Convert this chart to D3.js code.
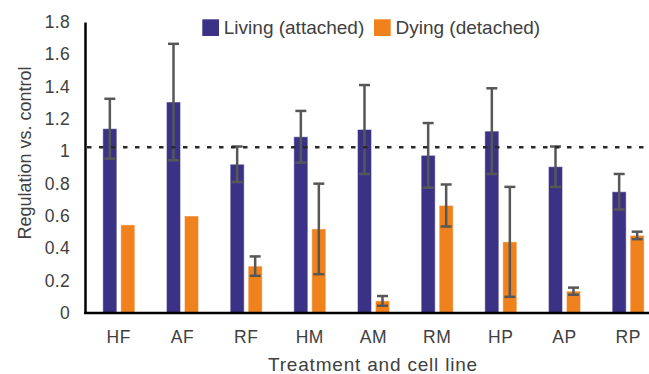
<!DOCTYPE html>
<html>
<head>
<meta charset="utf-8">
<script src="https://cdn.jsdelivr.net/npm/d3@7"></script>
<style>
  html, body { margin: 0; padding: 0; background: #fff; }
  svg { display: block; font-family: "Liberation Sans", Arial, Helvetica, sans-serif; }
</style>
</head>
<body>
<svg id="chart" width="649" height="374"></svg>
<script>
const categories = ["HF", "AF", "RF", "HM", "AM", "RM", "HP", "AP", "RP"];
const seriesNames = ["Living (attached)", "Dying (detached)"];
const livingValues = [1.14, 1.305, 0.92, 1.09, 1.135, 0.975, 1.125, 0.905, 0.75];
const livingErrors = [0.185, 0.36, 0.11, 0.16, 0.275, 0.2, 0.265, 0.125, 0.11];
const dyingValues  = [0.545, 0.6, 0.29, 0.52, 0.075, 0.665, 0.44, 0.135, 0.48];
const dyingErrors  = [0, 0, 0.06, 0.28, 0.03, 0.13, 0.34, 0.022, 0.023];
const yTicks = [0, 0.2, 0.4, 0.6, 0.8, 1, 1.2, 1.4, 1.6, 1.8];
const referenceLevel = 1.025;
const colors = ["#3b3286", "#f0821e"];

const svg = d3.select("#chart");
const W = 649, H = 374;
const x = d3.scaleBand().domain(categories).range([87, 660]).paddingInner(0).paddingOuter(0);
const bw = x.bandwidth();
const xs = d3.scaleBand().domain(seriesNames).range([bw / 2 - 16, bw / 2 + 16]).paddingInner(4 / 18).paddingOuter(0);
const y = d3.scaleLinear().domain([0, 1.8]).range([313, 22]);

const rows = categories.map((c, i) => ({
  cat: c,
  vals: [
    { s: seriesNames[0], v: livingValues[i], e: livingErrors[i], col: colors[0] },
    { s: seriesNames[1], v: dyingValues[i], e: dyingErrors[i], col: colors[1] }
  ]
}));

// bars
const g = svg.append("g");
const groups = g.selectAll("g.grp").data(rows).join("g")
  .attr("class", "grp")
  .attr("transform", d => `translate(${x(d.cat)},0)`);

groups.selectAll("rect").data(d => d.vals).join("rect")
  .attr("x", d => xs(d.s))
  .attr("y", d => y(d.v))
  .attr("width", xs.bandwidth())
  .attr("height", d => y(0) - y(d.v))
  .attr("fill", d => d.col)
  .attr("stroke", "rgba(255,255,255,0.45)")
  .attr("stroke-width", 1);

// error bars
const eb = groups.selectAll("g.eb").data(d => d.vals.filter(v => v.e > 0)).join("g").attr("class", "eb")
  .attr("stroke", "#575757").attr("stroke-width", 2.5);
eb.append("line")
  .attr("x1", d => xs(d.s) + xs.bandwidth() / 2)
  .attr("x2", d => xs(d.s) + xs.bandwidth() / 2)
  .attr("y1", d => y(d.v + d.e))
  .attr("y2", d => y(d.v - d.e));
eb.append("line")
  .attr("x1", d => xs(d.s) + xs.bandwidth() / 2 - 5.5)
  .attr("x2", d => xs(d.s) + xs.bandwidth() / 2 + 5.5)
  .attr("y1", d => y(d.v + d.e))
  .attr("y2", d => y(d.v + d.e));
eb.append("line")
  .attr("x1", d => xs(d.s) + xs.bandwidth() / 2 - 5.5)
  .attr("x2", d => xs(d.s) + xs.bandwidth() / 2 + 5.5)
  .attr("y1", d => y(d.v - d.e))
  .attr("y2", d => y(d.v - d.e));

// reference dashed line
svg.append("line")
  .attr("x1", 87).attr("x2", W)
  .attr("y1", y(referenceLevel)).attr("y2", y(referenceLevel))
  .attr("stroke", "#2a2a2a").attr("stroke-width", 2.5)
  .attr("stroke-dasharray", "4.5,7.5");

// axes
const yAxis = d3.axisLeft(y).tickValues(yTicks).tickSize(0).tickPadding(15)
  .tickFormat(d => d3.format("")(+d.toFixed(1)));
const ya = svg.append("g").attr("transform", "translate(85,0)").call(yAxis);
ya.select(".domain").attr("stroke", "#000").attr("stroke-width", 2.5);
ya.selectAll("text").attr("font-size", 17.5).attr("fill", "#404040")
  .attr("font-family", "Liberation Sans, Arial, sans-serif").attr("letter-spacing", 0.3);

const xAxis = d3.axisBottom(x).tickSize(0).tickPadding(18);
const xa = svg.append("g").attr("transform", "translate(0,313)").call(xAxis);
xa.select(".domain").remove();
svg.append("line").attr("x1", 84).attr("x2", W).attr("y1", 313).attr("y2", 313)
  .attr("stroke", "#000").attr("stroke-width", 2.5);
xa.selectAll("text").attr("font-size", 17.5).attr("fill", "#404040")
  .attr("font-family", "Liberation Sans, Arial, sans-serif").attr("letter-spacing", 0.6);

// axis titles
svg.append("text")
  .attr("x", 373).attr("y", 370.5)
  .attr("text-anchor", "middle")
  .attr("font-size", 19).attr("letter-spacing", 0.8).attr("fill", "#404040")
  .text("Treatment and cell line");

svg.append("text")
  .attr("transform", "translate(31,153) rotate(-90)")
  .attr("text-anchor", "middle")
  .attr("font-size", 18).attr("fill", "#404040")
  .text("Regulation vs. control");

// legend
const legendX = [202.3, 374];
const leg = svg.append("g").selectAll("g").data(seriesNames).join("g")
  .attr("transform", (d, i) => `translate(${legendX[i]},19.3)`);
leg.append("rect").attr("width", 16.7).attr("height", 16.7).attr("fill", (d, i) => colors[i]);
leg.append("text").attr("x", 21.5).attr("y", 14.7)
  .attr("font-size", 19).attr("fill", "#404040").text(d => d);
</script>
</body>
</html>
